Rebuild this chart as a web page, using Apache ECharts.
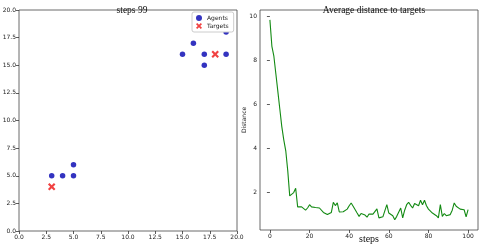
<!DOCTYPE html>
<html><head><meta charset="utf-8">
<script src="https://cdn.jsdelivr.net/npm/echarts@6/dist/echarts.min.js"></script>
<style>html,body{margin:0;padding:0;background:#fff}#c{width:480px;height:245px}</style>
</head><body><div id="c"></div>
<script>
var agentsX = [3, 4, 5, 5, 15, 16, 17, 17, 19, 19];
var agentsY = [5, 5, 5, 6, 16, 17, 16, 15, 16, 18];
var targetsX = [3, 18];
var targetsY = [4, 16];
var steps = [];
for (var i = 0; i <= 100; i++) steps.push(i);
var distance = [9.85, 8.65, 8.2, 7.4, 6.6, 5.8, 5.0, 4.4, 3.9, 3.0,
  1.85, 1.85, 2.0, 2.2, 1.35, 1.32, 1.35, 1.28, 1.2, 1.3,
  1.45, 1.35, 1.36, 1.32, 1.26, 1.3, 1.22, 1.1, 1.02, 1.0,
  1.07, 1.1, 1.56, 1.41, 1.53, 1.12, 1.12, 1.13, 1.18, 1.25,
  1.4, 1.53, 1.38, 1.4, 1.07, 0.92, 1.05, 1.03, 0.98, 0.88,
  1.03, 1.0, 1.02, 1.03, 1.26, 0.85, 0.92, 0.9, 0.88, 1.45,
  1.07, 1.12, 0.95, 0.77, 0.92, 1.0, 1.3, 0.85, 1.2, 1.45,
  1.56, 1.42, 1.3, 1.5, 1.45, 1.4, 1.65, 1.45, 1.65, 1.4,
  1.25, 1.18, 1.07, 1.0, 0.95, 0.85, 1.45, 0.92, 1.05, 0.95,
  0.95, 1.0, 1.2, 1.53, 1.38, 1.42, 1.25, 1.25, 1.22, 0.9, 1.23];
var rightXTicks = [0, 20, 40, 60, 80, 100];
var rightYTicks = [2, 4, 6, 8, 10];

var agentPts = agentsX.map(function (x, i) { return [x, agentsY[i]]; });
var targetPts = targetsX.map(function (x, i) { return [x, targetsY[i]]; });
var linePts = steps.map(function (s, i) { return [s, distance[i]]; });

var xMark = 'path://M0,2 L2,0 L5,3 L8,0 L10,2 L7,5 L10,8 L8,10 L5,7 L2,10 L0,8 L3,5 Z';
var tickFont = {fontFamily: 'DejaVu Sans', fontSize: 6, color: '#222'};
var serif = 'Liberation Serif';
var tickStyle = {color: '#333', width: 0.8};

function axisCommon(extra) {
  var o = {
    axisLine: {show: false},
    axisTick: {show: true, inside: false, length: 3, lineStyle: tickStyle},
    axisLabel: Object.assign({margin: 3}, tickFont),
    splitLine: {show: false}
  };
  return Object.assign(o, extra);
}

var chart = echarts.init(document.getElementById('c'), null, {renderer: 'canvas'});
chart.setOption({
  animation: false,
  backgroundColor: '#fff',
  title: [
    {text: 'steps 99', left: 127, top: 0, textAlign: 'center',
     textStyle: {fontFamily: serif, fontSize: 9.5, fontWeight: 'normal', color: '#111'}},
    {text: 'Average distance to targets', left: 369, top: 0, textAlign: 'center',
     textStyle: {fontFamily: serif, fontSize: 9.5, fontWeight: 'normal', color: '#111'}}
  ],
  legend: {
    left: 192, top: 12, orient: 'vertical', itemWidth: 6, itemHeight: 6, itemGap: 2,
    padding: [3, 5, 3, 4], borderColor: '#ccc', borderWidth: 1, borderRadius: 2,
    backgroundColor: '#fff',
    textStyle: {fontFamily: 'DejaVu Sans', fontSize: 6, color: '#222'},
    data: [{name: 'Agents', icon: 'circle'}, {name: 'Targets', icon: xMark}]
  },
  grid: [
    {left: 19, top: 10, width: 218, height: 221, show: true, borderColor: '#444', borderWidth: 0.8,
     outerBoundsMode: 'none', containLabel: false},
    {left: 260, top: 10, width: 218, height: 220, show: true, borderColor: '#444', borderWidth: 0.8,
     outerBoundsMode: 'none', containLabel: false}
  ],
  xAxis: [
    axisCommon({type: 'value', gridIndex: 0, min: 0, max: 20, interval: 2.5,
      axisLabel: Object.assign({margin: 3, formatter: function (v) { return v.toFixed(1); }}, tickFont)}),
    axisCommon({type: 'value', gridIndex: 1, min: -5, max: 105,
      name: 'steps', nameLocation: 'middle', nameGap: 9, nameMoveOverlap: false,
      nameTextStyle: {fontFamily: serif, fontSize: 10, color: '#111', verticalAlign: 'middle'},
      axisTick: {show: true, inside: false, length: 3, customValues: rightXTicks, lineStyle: tickStyle},
      axisLabel: Object.assign({margin: 3, customValues: rightXTicks}, tickFont)})
  ],
  yAxis: [
    axisCommon({type: 'value', gridIndex: 0, min: 0, max: 20, interval: 2.5,
      axisLabel: Object.assign({margin: 3, formatter: function (v) { return v.toFixed(1); }}, tickFont)}),
    axisCommon({type: 'value', gridIndex: 1, min: 0.3, max: 10.3,
      name: 'Distance', nameLocation: 'middle', nameGap: 16, nameRotate: 90, nameMoveOverlap: false,
      nameTextStyle: {fontFamily: 'DejaVu Sans', fontSize: 6, color: '#222', verticalAlign: 'middle'},
      axisTick: {show: true, inside: false, length: 3, customValues: rightYTicks, lineStyle: tickStyle},
      axisLabel: Object.assign({margin: 3, customValues: rightYTicks}, tickFont)})
  ],
  series: [
    {name: 'Agents', type: 'scatter', xAxisIndex: 0, yAxisIndex: 0, data: agentPts,
     symbol: 'circle', symbolSize: 5.5, itemStyle: {color: '#0000b0'}},
    {name: 'Targets', type: 'scatter', xAxisIndex: 0, yAxisIndex: 0, data: targetPts,
     symbol: xMark, symbolSize: 7.5, itemStyle: {color: '#ee1111'}},
    {name: 'dist', type: 'line', xAxisIndex: 1, yAxisIndex: 1, data: linePts,
     showSymbol: false, symbol: 'none', lineStyle: {color: '#138a13', width: 1.1}}
  ]
});
</script></body></html>
